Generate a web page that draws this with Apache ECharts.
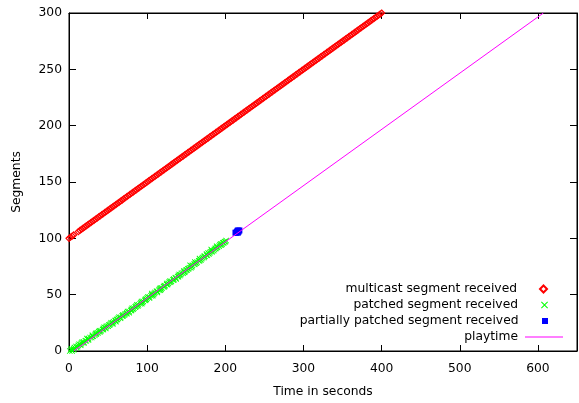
<!DOCTYPE html>
<html><head><meta charset="utf-8">
<script src="https://cdn.jsdelivr.net/npm/echarts@6/dist/echarts.min.js"></script>
<style>html,body{margin:0;padding:0;background:#fff}#c{width:579px;height:403px}</style>
</head><body><div id="c"></div>
<script>
var xTicks = [0,100,200,300,400,500,600];
var yTicks = [0,50,100,150,200,250,300];
var redSeg = [100,101,102,103,106,107,108,109,110,111,112,113,114,115,116,117,118,119,120,121,122,123,124,125,126,127,128,129,130,131,132,133,134,135,136,137,138,139,140,141,142,143,144,145,146,147,148,149,150,151,152,153,154,155,156,157,158,159,160,161,162,163,164,165,166,167,168,169,170,171,172,173,174,175,176,177,178,179,180,181,182,183,184,185,186,187,188,189,190,191,192,193,194,195,196,197,198,199,200,201,202,203,204,205,206,207,208,209,210,211,212,213,214,215,216,217,218,219,220,221,222,223,224,225,226,227,228,229,230,231,232,233,234,235,236,237,238,239,240,241,242,243,244,245,246,247,248,249,250,251,252,253,254,255,256,257,258,259,260,261,262,263,264,265,266,267,268,269,270,271,272,273,274,275,276,277,278,279,280,281,282,283,284,285,286,287,288,289,290,291,292,293,294,295,296,297,298,299,300];
var redTime = [0,2,4,6,12,14,16,18,20,22,24,26,28,30,32,34,36,38,40,42,44,46,48,50,52,54,56,58,60,62,64,66,68,70,72,74,76,78,80,82,84,86,88,90,92,94,96,98,100,102,104,106,108,110,112,114,116,118,120,122,124,126,128,130,132,134,136,138,140,142,144,146,148,150,152,154,156,158,160,162,164,166,168,170,172,174,176,178,180,182,184,186,188,190,192,194,196,198,200,202,204,206,208,210,212,214,216,218,220,222,224,226,228,230,232,234,236,238,240,242,244,246,248,250,252,254,256,258,260,262,264,266,268,270,272,274,276,278,280,282,284,286,288,290,292,294,296,298,300,302,304,306,308,310,312,314,316,318,320,322,324,326,328,330,332,334,336,338,340,342,344,346,348,350,352,354,356,358,360,362,364,366,368,370,372,374,376,378,380,382,384,386,388,390,392,394,396,398,400];
var greenSeg = [0,1,2,3,4,5,6,7,8,9,10,11,12,13,14,15,16,17,18,19,20,21,22,23,24,25,26,27,28,29,30,31,32,33,34,35,36,37,38,39,40,41,42,43,44,45,46,47,48,49,50,51,52,53,54,55,56,57,58,59,60,61,62,63,64,65,66,67,68,69,70,71,72,73,74,75,76,77,78,79,80,81,82,83,84,85,86,87,88,89,90,91,92,93,94,95,96,97,98,
  0,1,2,3,4,5,6,7,8,9,10,11,12,13,14,15,16,17,18,19,20,21,22,23,24,25,26,27,28,29,30,31,32,33,34,35,36,37,38,39,40,41,42,43,44,45,46,47,48,49,50,51,52,53,54,55,56,57,58,59,60,61,62,63,64,65,66,67,68,69,70,71,72,73,74,75,76,77,78,79,80,81,82,83,84,85,86,87,88,89,90,91,92,93,94,95,96,97];
var greenTime = [1,3,6,7,11,12,15,16,19,21,24,25,27,30,33,34,37,38,41,43,44,47,50,51,53,56,57,60,62,63,66,68,71,72,74,77,79,80,83,85,86,89,91,92,95,97,99,100,103,105,106,109,110,113,115,116,119,121,122,125,127,128,131,133,134,137,139,140,143,144,147,149,150,153,154,157,158,161,163,164,167,169,170,173,174,177,179,180,183,185,186,188,190,192,195,196,198,200,201,
  4,6,3,10,9,15,13,19,17,22,25,23,29,31,30,35,35,40,39,44,47,45,48,52,56,54,60,59,61,66,64,69,69,74,77,75,80,82,81,85,88,87,93,94,93,98,98,103,101,107,108,106,113,112,117,118,117,122,123,126,125,130,129,134,137,136,140,142,141,146,148,147,151,152,156,157,155,160,162,161,166,168,167,171,173,176,176,178,181,183,182,187,189,189,193,194,197,199];
var blueSeg = [105,105,106,106,106,107,105,107];
var blueTime = [213,214,215,216,217,218,216,216];
var playSeg = [0,300];
var playTime = [6,607];
var names = ['multicast segment received','patched segment received','partially patched segment received','playtime'];

function pairs(t,s){return t.map(function(v,i){return [v,s[i]];});}
var FONT = 'DejaVu Sans';
var FS = 12.3;
var xMark = 'path://M0,1L1,0L5,4L9,0L10,1L6,5L10,9L9,10L5,6L1,10L0,9L4,5Z';
var chart = echarts.init(document.getElementById('c'));
var lineStyle = {show:true,onZero:false,lineStyle:{color:'#000',width:1}};
function legend(i,top,right,w,h,pad,icon){
  var d = {name:names[i]};
  if(icon) d.icon = icon;
  return {data:[d],right:right,top:top,orient:'vertical',align:'right',itemWidth:w,itemHeight:h,itemGap:0,
    textStyle:{fontFamily:FONT,fontSize:FS,color:'#000',padding:[0,pad,0,0]},padding:0,selectedMode:false};
}
chart.setOption({
  animation:false,
  grid:{left:69,right:2,top:13,bottom:52,show:true,borderColor:'#000',borderWidth:1,backgroundColor:'transparent',outerBoundsMode:'none',containLabel:false},
  legend:[legend(0,283,31,7,7,18,'diamond'),legend(1,299,31,7,7,18),legend(2,315,31,6,6,18.5,'rect'),legend(3,331,16,38,1,2,'rect')],
  xAxis:[{type:'value',min:0,max:650,interval:100,position:'bottom',
    name:'Time in seconds',nameLocation:'middle',nameGap:35,
    nameTextStyle:{fontFamily:FONT,fontSize:FS,color:'#000'},
    axisLine:lineStyle,axisTick:{show:true,inside:true,length:6,lineStyle:{color:'#000'}},splitLine:{show:false},
    axisLabel:{margin:12,fontFamily:FONT,fontSize:FS,color:'#000',formatter:function(v){return xTicks.indexOf(v)>=0?String(v):'';}}},
   {type:'value',min:0,max:650,interval:100,position:'top',axisLine:lineStyle,axisTick:{show:true,inside:true,length:6,lineStyle:{color:'#000'}},axisLabel:{show:false},splitLine:{show:false}}],
  yAxis:[{type:'value',min:0,max:300,interval:50,position:'left',
    name:'Segments',nameLocation:'middle',nameGap:46,
    nameTextStyle:{fontFamily:FONT,fontSize:FS,color:'#000'},
    axisLine:lineStyle,axisTick:{show:true,inside:true,length:7,lineStyle:{color:'#000'}},splitLine:{show:false},
    axisLabel:{margin:7,fontFamily:FONT,fontSize:FS,color:'#000',formatter:function(v){return yTicks.indexOf(v)>=0?String(v):'';}}},
   {type:'value',min:0,max:300,interval:50,position:'right',axisLine:lineStyle,axisTick:{show:true,inside:true,length:7,lineStyle:{color:'#000'}},axisLabel:{show:false},splitLine:{show:false}}],
  series:[
    {name:names[0],type:'scatter',data:pairs(redTime,redSeg),symbol:'diamond',symbolSize:6,
      itemStyle:{color:'rgba(255,255,255,0)',borderColor:'#ff0000',borderWidth:1.2,opacity:1}},
    {name:names[1],type:'scatter',data:pairs(greenTime,greenSeg),symbol:xMark,symbolSize:6,
      itemStyle:{color:'#00ff00',opacity:1}},
    {name:names[2],type:'scatter',data:pairs(blueTime,blueSeg),symbol:'rect',symbolSize:6,
      itemStyle:{color:'#0000ff',opacity:1}},
    {name:names[3],type:'line',data:pairs(playTime,playSeg),symbol:'none',
      lineStyle:{color:'#ff00ff',width:1},itemStyle:{color:'#ff00ff'}}
  ]
});
</script></body></html>
